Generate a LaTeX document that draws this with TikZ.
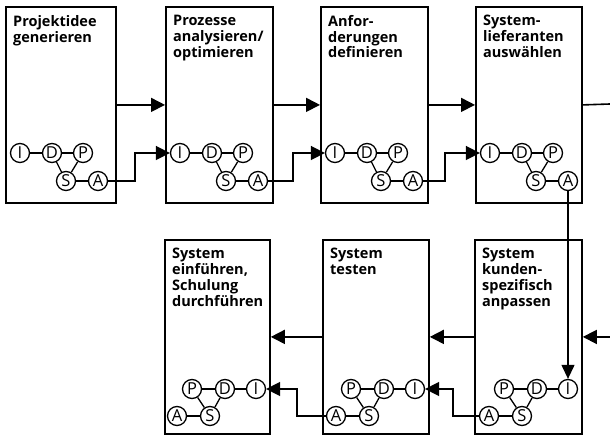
\documentclass[tikz,border=0pt]{standalone}
\usepackage{fontspec}
\setmainfont{Open Sans}
\usetikzlibrary{arrows.meta}
\begin{document}
\begin{tikzpicture}[x=1pt,y=-1pt,
  boxnode/.style={draw, line width=1.8pt, inner sep=0pt, anchor=north west},
  title/.style={anchor=north west, align=left, inner sep=0pt,
    font=\bfseries\fontsize{14.5}{15.8}\selectfont},
  cnode/.style={draw, circle, line width=1.3pt, minimum size=19pt, inner sep=0pt,
    fill=white, font=\fontsize{16.5}{16.5}\selectfont},
  link/.style={line width=1.3pt},
  arr/.style={line width=1.6pt, -{Triangle[length=14pt,width=14pt]}},
  varr/.style={line width=1.2pt, -{Triangle[length=14pt,width=13pt]}},
  plainline/.style={line width=1.6pt}
]
\useasboundingbox (0,0) rectangle (610,435);
% boxes
\node[boxnode, minimum width=110pt, minimum height=196pt] (b1) at (5,6) {};
\node[boxnode, minimum width=107pt, minimum height=196pt] (b2) at (165,6) {};
\node[boxnode, minimum width=107pt, minimum height=196pt] (b3) at (320,6) {};
\node[boxnode, minimum width=106pt, minimum height=196pt] (b4) at (475,6) {};
\node[boxnode, minimum width=105pt, minimum height=194pt] (b5) at (164,239) {};
\node[boxnode, minimum width=106pt, minimum height=194pt] (b6) at (322,239) {};
\node[boxnode, minimum width=107pt, minimum height=194pt] (b7) at (474,239) {};
% titles
\node[title] (t1) at (13,15) {Projektidee\\generieren};
\node[title] (t2) at (173,15) {Prozesse\\analysieren/\\optimieren};
\node[title] (t3) at (328,15) {Anfor-\\derungen\\definieren};
\node[title] (t4) at (483,15) {System-\\lieferanten\\auswählen};
\node[title] (t5) at (172,248) {System\\einführen,\\Schulung\\durchführen};
\node[title] (t6) at (330,248) {System\\testen};
\node[title] (t7) at (482,248) {System\\kunden-\\spezifisch\\anpassen};
% IDPSA clusters, top row
\foreach \b/\L in {b1/5, b2/165, b3/320, b4/475}{
  \node[cnode] (\b I) at (\L+15,153) {I};
  \node[cnode] (\b D) at (\L+47,153) {D};
  \node[cnode] (\b P) at (\L+78,153) {P};
  \node[cnode] (\b S) at (\L+61,181) {S};
  \node[cnode] (\b A) at (\L+93,181) {A};
}
% bottom row
\foreach \b/\R in {b5/269, b6/428, b7/581}{
  \node[cnode] (\b I) at (\R-13,389) {I};
  \node[cnode] (\b D) at (\R-44,389) {D};
  \node[cnode] (\b P) at (\R-77,389) {P};
  \node[cnode] (\b S) at (\R-59,416) {S};
  \node[cnode] (\b A) at (\R-92,416) {A};
}
\foreach \b in {b1,b2,b3,b4,b5,b6,b7}{
  \draw[link] (\b I) -- (\b D);
  \draw[link] (\b D) -- (\b P);
  \draw[link] (\b D) -- (\b S);
  \draw[link] (\b P) -- (\b S);
  \draw[link] (\b S) -- (\b A);
}
% main flow arrows
\draw[arr] (b1.east) -- (b2.west);
\draw[arr] (b2.east) -- (b3.west);
\draw[arr] (b3.east) -- (b4.west);
\coordinate (outR) at (610,104);
\draw[plainline] (b4.east) -- (outR);
\coordinate (inR) at (610,337);
\draw[arr] (inR) -- (b7.east);
\draw[arr] (b7.west) -- (b6.east);
\draw[arr] (b6.west) -- (b5.east);
% IDPSA links between boxes
\coordinate (k1) at (135,0);
\coordinate (k2) at (293,0);
\coordinate (k3) at (445,0);
\coordinate (k6) at (453,0);
\coordinate (k5) at (297,0);
\draw[arr] (b1A.east) -- (b1A.east -| k1) |- (b2I.west);
\draw[arr] (b2A.east) -- (b2A.east -| k2) |- (b3I.west);
\draw[arr] (b3A.east) -- (b3A.east -| k3) |- (b4I.west);
\draw[varr] (b4A.south) -- (b7I.north);
\draw[arr] (b7A.west) -- (b7A.west -| k6) |- (b6I.east);
\draw[arr] (b6A.west) -- (b6A.west -| k5) |- (b5I.east);
\end{tikzpicture}
\end{document}
